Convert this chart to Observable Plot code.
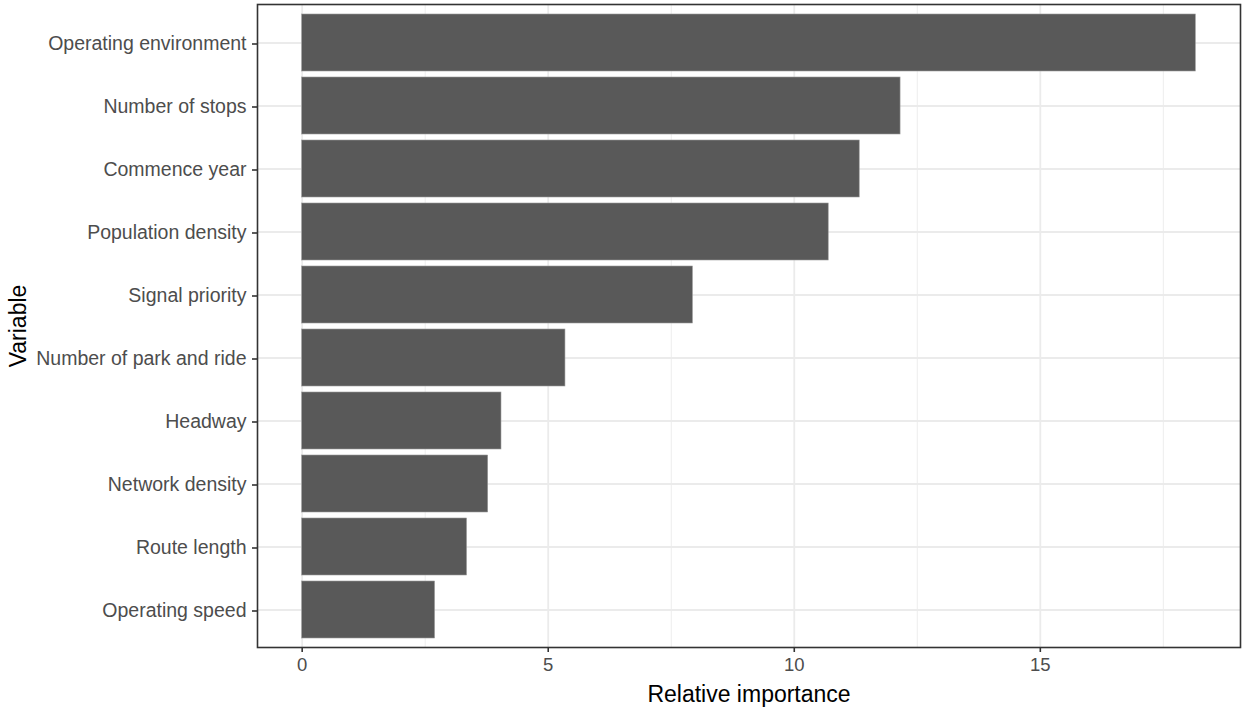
<!DOCTYPE html>
<html>
<head>
<meta charset="utf-8">
<script src="https://cdn.jsdelivr.net/npm/d3@7"></script>
<script src="https://cdn.jsdelivr.net/npm/@observablehq/plot@0.6"></script>
<style>
  html, body { margin: 0; padding: 0; background: #fff; }
  #chart svg { display: block; }
</style>
</head>
<body>
<div id="chart"></div>
<script>
const variables = [
  "Operating environment",
  "Number of stops",
  "Commence year",
  "Population density",
  "Signal priority",
  "Number of park and ride",
  "Headway",
  "Network density",
  "Route length",
  "Operating speed"
];
const importance = [18.16, 12.16, 11.33, 10.70, 7.94, 5.35, 4.05, 3.78, 3.35, 2.70];
const majorTicks = [0, 5, 10, 15];
const minorTicks = [2.5, 7.5, 12.5, 17.5];
const xTitle = "Relative importance";
const yTitle = "Variable";

const data = variables.map((v, i) => ({variable: v, value: importance[i]}));
const xmax = d3.max(importance);
const pad = xmax * 0.05;

const font = "'Liberation Sans', Arial, Helvetica, sans-serif";

const chart = Plot.plot({
  width: 1242,
  height: 710,
  marginLeft: 257,
  marginRight: 2,
  marginTop: 4,
  marginBottom: 63,
  style: {fontFamily: font, background: "#fff"},
  x: {domain: [-pad, xmax + pad]},
  y: {domain: variables, type: "band", paddingInner: 0.1, paddingOuter: 0.15},
  marks: [
    Plot.ruleX(minorTicks, {stroke: "#ebebeb", strokeWidth: 0.9}),
    Plot.ruleX(majorTicks, {stroke: "#ebebeb", strokeWidth: 1.8}),
    Plot.tickY(variables, {y: d => d, stroke: "#ebebeb", strokeWidth: 1.8}),
    Plot.barX(data, {x1: 0, x2: "value", y: "variable", fill: "#595959", stroke: "#9a9a9a", strokeWidth: 0.6}),
    Plot.frame({stroke: "#333333", strokeWidth: 1.6}),
    Plot.axisX(majorTicks, {
      tickSize: 5, tickPadding: 5, fontSize: 18.5, color: "#4d4d4d", stroke: "#333333",
      strokeWidth: 1.6, label: null
    }),
    Plot.axisY({
      tickSize: 5, tickPadding: 6, fontSize: 19.5, color: "#4d4d4d", stroke: "#333333",
      strokeWidth: 1.6, label: null, dy: 1
    }),
    Plot.text([xTitle], {frameAnchor: "bottom", lineAnchor: "middle", dy: 47, fontSize: 23, fill: "#000"}),
    Plot.text([yTitle], {frameAnchor: "left", textAnchor: "middle", lineAnchor: "middle", dx: -239, rotate: -90, fontSize: 23, fill: "#000"})
  ]
});

document.getElementById("chart").appendChild(chart);
</script>
</body>
</html>
